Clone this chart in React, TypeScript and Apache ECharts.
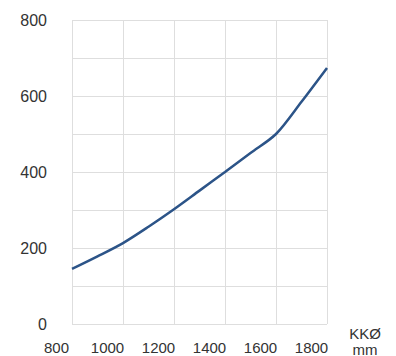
import React, { useEffect, useRef } from "react";
import * as echarts from "echarts";

const xValues = [800, 900, 1000, 1100, 1200, 1300, 1400, 1500, 1600, 1700, 1800];
const yValues = [145, 178, 213, 256, 302, 351, 400, 450, 500, 585, 674];
const yLabelValues = [0, 200, 400, 600, 800];
const unitTop = "KKØ";
const unitBottom = "mm";

export default function App() {
  const ref = useRef<HTMLDivElement>(null);
  useEffect(() => {
    if (!ref.current) return;
    const chart = echarts.init(ref.current, null, { renderer: "svg" });
    const font = "'Liberation Sans', Arial, Helvetica, sans-serif";
    chart.setOption({
      animation: false,
      backgroundColor: "#ffffff",
      grid: { left: 72, top: 20, right: 69, bottom: 32, containLabel: false },
      xAxis: {
        type: "value",
        min: 800,
        max: 1800,
        interval: 200,
        axisLine: { show: false },
        axisTick: { show: false },
        splitLine: { show: true, lineStyle: { color: "#dedede", width: 1 } },
        axisLabel: {
          color: "#333",
          fontSize: 15,
          fontFamily: font,
          margin: 16,
          padding: [0, 31, 0, 0],
          formatter: (v: number) => String(v),
        },
      },
      yAxis: {
        type: "value",
        min: 0,
        max: 800,
        interval: 100,
        axisLine: { show: false },
        axisTick: { show: false },
        splitLine: { show: true, lineStyle: { color: "#dedede", width: 1 } },
        axisLabel: {
          color: "#333",
          fontSize: 16,
          fontFamily: font,
          margin: 25,
          padding: [0, 0, 11, 0],
          formatter: (v: number) => (yLabelValues.includes(v) ? String(v) : ""),
        },
      },
      graphic: [
        {
          type: "text",
          x: 365,
          y: 333,
          style: {
            text: unitTop,
            fill: "#333",
            font: `15px ${font}`,
            textAlign: "center",
            textVerticalAlign: "middle",
          },
        },
        {
          type: "text",
          x: 365,
          y: 349,
          style: {
            text: unitBottom,
            fill: "#333",
            font: `15px ${font}`,
            textAlign: "center",
            textVerticalAlign: "middle",
          },
        },
      ],
      series: [
        {
          type: "line",
          data: xValues.map((x, i) => [x, yValues[i]]),
          showSymbol: false,
          smooth: 0.3,
          lineStyle: { color: "#2c5488", width: 2.5 },
        },
      ],
    });
    return () => chart.dispose();
  }, []);
  return (
    <div
      ref={ref}
      style={{ position: "fixed", left: 0, top: 0, width: 396, height: 356 }}
    />
  );
}
